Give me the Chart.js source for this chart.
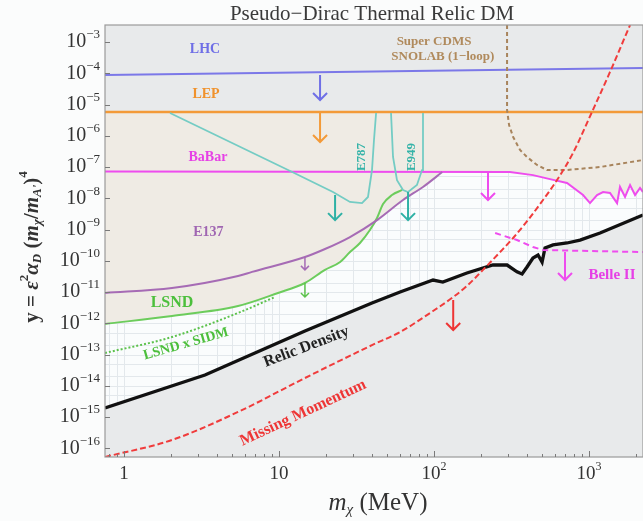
<!DOCTYPE html>
<html>
<head>
<meta charset="utf-8">
<title>Pseudo-Dirac Thermal Relic DM</title>
<script src="https://cdn.jsdelivr.net/npm/chart.js@4.4.1/dist/chart.umd.min.js"></script>
<style>
  html, body { margin: 0; padding: 0; background: #fbfcfc; }
  #wrap { width: 643px; height: 521px; }
</style>
</head>
<body>
<div id="wrap"><canvas id="relic-chart" width="643" height="521"></canvas></div>
<script>
// x = m_chi (MeV), y = eps^2 alpha_D (m_chi/m_A')^4
const xMin = 0.754, xMax = 2230;
const yMin = 5.25e-17, yMax = 3.5e-3;

const lhcX = [0.754, 2230];
const lhcY = [8.8e-5, 1.47e-4];

const lepX = [0.754, 2230];
const lepY = [5.75e-6, 5.75e-6];

const babarX = [0.754, 309, 435, 560, 721, 915, 1015, 1127, 1232, 1366, 1517, 1585, 1708, 1840, 1982, 2133, 2230];
const babarY = [7.2e-8, 6.9e-8, 5.5e-8, 4.1e-8, 3.08e-8, 1.27e-8, 7.0e-9, 1.27e-8, 1.58e-8, 1.47e-8, 7.0e-9, 2.3e-8, 1.1e-8, 2.65e-8, 1.27e-8, 2.13e-8, 1.58e-8];

const e137X = [0.754, 2.04, 5.44, 6.70, 14.7, 19.8, 28.7, 42.9, 63.1, 84.9, 113];
const e137Y = [9.3e-12, 1.34e-11, 3.25e-11, 4.4e-11, 1.32e-10, 2.38e-10, 5.75e-10, 2.0e-9, 8.8e-9, 2.3e-8, 6.9e-8];

const lsndX = [0.754, 2.04, 5.44, 9.85, 14.7, 19.8, 24.8, 28.7, 33.3, 38.6, 42.9, 46.9, 53.6, 62.2];
const lsndY = [9.5e-13, 1.71e-12, 3.56e-12, 9.3e-12, 1.94e-11, 5.1e-11, 9.1e-11, 1.9e-10, 3.7e-10, 9.6e-10, 2.33e-9, 6.5e-9, 1.27e-8, 1.84e-8];

const sidmX = [0.754, 2.04, 5.44, 9.42];
const sidmY = [1.12e-13, 3.63e-13, 2.13e-12, 6.9e-12];

const relicX = [0.754, 3.33, 14.7, 39.8, 60.4, 98.6, 114, 163, 240, 296, 343, 370, 398, 435, 469, 498, 520, 586, 721, 875, 1178, 2230];
const relicY = [1.94e-15, 2.2e-14, 5.65e-13, 4.45e-12, 1.0e-11, 2.42e-11, 2.09e-11, 4.05e-11, 7.3e-11, 7.3e-11, 4.4e-11, 3.77e-11, 6.3e-11, 1.22e-10, 1.53e-10, 9.1e-11, 2.56e-10, 3.2e-10, 3.7e-10, 4.6e-10, 7.7e-10, 2.9e-9];

const missX = [0.754, 2.04, 5.44, 14.7, 39.8, 60.4, 98.6, 133, 163, 207, 267, 324, 404, 483, 622, 788, 1045, 1366, 1840];
const missY = [5.25e-17, 1.84e-16, 1.45e-15, 1.77e-14, 2.0e-13, 5.25e-13, 2.47e-12, 6.9e-12, 1.56e-11, 5.1e-11, 1.9e-10, 5.35e-10, 2.0e-9, 6.5e-9, 3.84e-8, 2.8e-7, 5.75e-6, 1.1e-4, 3.5e-3];

const e787X = [1.98, 11.8, 22.3, 28.7, 34.3, 37.5, 39.8, 41.0, 42.3];
const e787Y = [5.35e-6, 7.45e-8, 1.58e-8, 7.6e-9, 7.0e-9, 1.1e-8, 8.0e-8, 7.3e-7, 5.35e-6];

const e949X = [52.8, 54.4, 57.7, 63.1, 68.0, 77.6, 83.7, 84.9, 84.9];
const e949Y = [5.35e-6, 2.09e-7, 3.8e-8, 1.84e-8, 1.58e-8, 2.65e-8, 8.0e-8, 7.3e-7, 5.35e-6];

const cdmsX = [296, 296, 305, 324, 359, 398, 462, 536, 721, 1178, 2230];
const cdmsY = [3.5e-3, 6.67e-6, 2.2e-6, 9.1e-7, 3.5e-7, 2.09e-7, 1.16e-7, 8.0e-8, 8.0e-8, 1.0e-7, 1.67e-7];

const belleX = [248, 343, 435, 505, 2230];
const belleY = [7.7e-10, 4.6e-10, 2.75e-10, 2.2e-10, 1.9e-10];

// downward "excluded" arrows: x, start, tip
const arrowX   = [18.4, 18.4, 23.0, 68.0, 223, 14.7, 14.7, 700, 133];
const arrowTop = [8.8e-5, 5.75e-6, 1.27e-8, 1.58e-8, 6.9e-8, 1.32e-10, 1.94e-11, 1.9e-10, 5.5e-12];
const arrowTip = [1.39e-5, 6.3e-7, 2.0e-9, 2.0e-9, 8.8e-9, 5.1e-11, 6.9e-12, 2.42e-11, 6.1e-13];

// region labels
const labelText = ['LHC', 'LEP', 'BaBar', 'E137', 'LSND', 'LSND x SIDM', 'Relic Density', 'Missing Momentum',
  'Super CDMS', 'SNOLAB (1\u2212loop)', 'E787', 'E949', 'Belle II'];
const labelX = [3.33, 3.38, 3.48, 3.5, 2.04, 2.51, 15.0, 14.3, 100, 114, 34.3, 72.1, 1406];
const labelY = [6.0e-4, 2.17e-5, 2.09e-7, 8.3e-10, 4.45e-12, 2.17e-13, 1.74e-13, 1.35e-15, 1.0e-3, 3.3e-4, 2.09e-7, 2.09e-7, 3.5e-11];

const yDecades = [-3, -4, -5, -6, -7, -8, -9, -10, -11, -12, -13, -14, -15, -16];
const xDecades = [0, 1, 2, 3];

// --- styles ---
const serif = '"Liberation Serif", "DejaVu Serif", serif';
const gray = '#e8eaeb';
const beige = '#efebe4';
const teal = '#74ccc4';
const tealDark = '#2eb1a5';
const magenta = '#ee4cee';

const arrowColor = ['#6f6fe6', '#f39a38', tealDark, tealDark, magenta, '#a66bb5', '#5cc24c', magenta, '#ee3535'];
const arrowHead = [7, 7, 7, 7, 7, 4, 4, 7, 7];

const labelStyle = [
  { color: '#6f6fe6', size: 14 },
  { color: '#f0922c', size: 14 },
  { color: '#e640e6', size: 14 },
  { color: '#a066b2', size: 14 },
  { color: '#4cbf3c', size: 16 },
  { color: '#4cbf3c', size: 14, rot: -16 },
  { color: '#222222', size: 16, rot: -21 },
  { color: '#ee3535', size: 16, rot: -25 },
  { color: '#b08a5c', size: 13 },
  { color: '#b08a5c', size: 13 },
  { color: '#35b3a8', size: 13, rot: -90 },
  { color: '#35b3a8', size: 13, rot: -90 },
  { color: '#e640e6', size: 15 }
];

function pts(xs, ys) {
  return xs.map((x, i) => ({ x: x, y: ys[i] }));
}

// lower edge of the excluded (beige) band: LSND, then E137, then BaBar
const boundary = [
  ...pts(lsndX, lsndY).filter(p => p.x < 41),
  ...pts(e137X, e137Y).filter(p => p.x >= 41),
  ...pts(babarX, babarY).filter(p => p.x > 113)
];

function lineSet(label, data, color, width, extra) {
  return Object.assign({
    label: label, data: data, borderColor: color, borderWidth: width,
    pointRadius: 0, fill: false, tension: 0
  }, extra || {});
}

function fontOf(p) {
  return (p.italic ? 'italic ' : '') + (p.bold ? 'bold ' : '') + p.size + 'px ' + serif;
}

function drawRich(ctx, pieces, x, y, align) {
  let w = 0;
  pieces.forEach(p => { ctx.font = fontOf(p); p.w = ctx.measureText(p.t).width; w += p.w; });
  let cx = align === 'right' ? x - w : (align === 'center' ? x - w / 2 : x);
  ctx.textAlign = 'left';
  ctx.textBaseline = 'middle';
  pieces.forEach(p => { ctx.font = fontOf(p); ctx.fillText(p.t, cx, y + (p.dy || 0)); cx += p.w; });
}

const decor = {
  id: 'decor',
  beforeDraw(chart) {
    const { ctx, chartArea: a } = chart;
    ctx.save();
    ctx.fillStyle = '#fafcfd';
    ctx.fillRect(a.left, a.top, a.right - a.left, a.bottom - a.top);
    ctx.restore();
  },
  beforeDatasetsDraw(chart) {
    const { ctx, chartArea: a, scales: { x, y } } = chart;
    ctx.save();
    ctx.beginPath();
    ctx.rect(a.left, a.top, a.right - a.left, a.bottom - a.top);
    ctx.clip();
    ctx.strokeStyle = '#e3e8ec';
    ctx.lineWidth = 1;
    for (let n = -1; n <= 3; n++) {
      for (let d = 1; d <= 9; d++) {
        const px = Math.round(x.getPixelForValue(d * Math.pow(10, n))) + 0.5;
        ctx.beginPath(); ctx.moveTo(px, a.top); ctx.lineTo(px, a.bottom); ctx.stroke();
      }
    }
    for (let k = -17; k <= -2; k++) {
      [1, 2, 5].forEach(d => {
        const py = Math.round(y.getPixelForValue(d * Math.pow(10, k))) + 0.5;
        ctx.beginPath(); ctx.moveTo(a.left, py); ctx.lineTo(a.right, py); ctx.stroke();
      });
    }
    ctx.restore();
  },
  afterDatasetsDraw(chart) {
    const { ctx, chartArea: a, scales: { x, y } } = chart;
    ctx.save();

    // arrows
    arrowX.forEach((v, i) => {
      const px = x.getPixelForValue(v);
      const y0 = y.getPixelForValue(arrowTop[i]);
      const y1 = y.getPixelForValue(arrowTip[i]);
      const h = arrowHead[i];
      ctx.strokeStyle = arrowColor[i];
      ctx.lineWidth = h > 5 ? 2 : 1.5;
      ctx.beginPath();
      ctx.moveTo(px, y0); ctx.lineTo(px, y1);
      ctx.moveTo(px - h, y1 - h); ctx.lineTo(px, y1); ctx.lineTo(px + h, y1 - h);
      ctx.stroke();
    });

    // labels
    labelText.forEach((t, i) => {
      const st = labelStyle[i];
      ctx.save();
      ctx.translate(x.getPixelForValue(labelX[i]), y.getPixelForValue(labelY[i]));
      if (st.rot) ctx.rotate(st.rot * Math.PI / 180);
      ctx.fillStyle = st.color;
      drawRich(ctx, [{ t: t, size: st.size, bold: true }], 0, 0, 'center');
      ctx.restore();
    });

    // frame
    ctx.strokeStyle = '#9a9a9a';
    ctx.lineWidth = 1.2;
    ctx.strokeRect(a.left, a.top, a.right - a.left, a.bottom - a.top);

    // inward ticks
    ctx.strokeStyle = '#7a7a7a';
    ctx.lineWidth = 1;
    for (let n = -1; n <= 3; n++) {
      for (let d = 1; d <= 9; d++) {
        const v = d * Math.pow(10, n);
        if (v < xMin || v > xMax) continue;
        const px = Math.round(x.getPixelForValue(v)) + 0.5;
        const len = d === 1 ? 6 : 3;
        ctx.beginPath(); ctx.moveTo(px, a.bottom); ctx.lineTo(px, a.bottom - len); ctx.stroke();
      }
    }
    yDecades.forEach(k => {
      const py = Math.round(y.getPixelForValue(Math.pow(10, k))) + 0.5;
      ctx.beginPath(); ctx.moveTo(a.left, py); ctx.lineTo(a.left + 5, py); ctx.stroke();
    });

    // tick labels
    ctx.fillStyle = '#333333';
    yDecades.forEach(k => {
      const py = y.getPixelForValue(Math.pow(10, k));
      drawRich(ctx, [{ t: '10', size: 20 }, { t: '\u2212' + (-k), size: 13, dy: -7 }], a.left - 5, py, 'right');
    });
    xDecades.forEach(n => {
      const px = x.getPixelForValue(Math.pow(10, n));
      const pieces = n === 0 ? [{ t: '1', size: 19 }] :
        n === 1 ? [{ t: '10', size: 19 }] : [{ t: '10', size: 19 }, { t: String(n), size: 12, dy: -7 }];
      drawRich(ctx, pieces, px, a.bottom + 17, 'center');
    });

    // axis titles
    drawRich(ctx, [{ t: 'm', size: 25, italic: true }, { t: '\u03c7', size: 15, italic: true, dy: 7 },
      { t: ' (MeV)', size: 25 }], 378, 503, 'center');

    ctx.save();
    ctx.translate(33, 247);
    ctx.rotate(-Math.PI / 2);
    drawRich(ctx, [
      { t: 'y = ', size: 21, bold: true },
      { t: '\u03b5', size: 21, bold: true, italic: true },
      { t: '2', size: 13, bold: true, dy: -8 },
      { t: '\u03b1', size: 21, bold: true, italic: true },
      { t: 'D', size: 13, bold: true, italic: true, dy: 5 },
      { t: ' (', size: 21, bold: true },
      { t: 'm', size: 21, bold: true, italic: true },
      { t: '\u03c7', size: 13, bold: true, italic: true, dy: 5 },
      { t: '/', size: 21, bold: true },
      { t: 'm', size: 21, bold: true, italic: true },
      { t: "A'", size: 13, bold: true, italic: true, dy: 5 },
      { t: ')', size: 21, bold: true },
      { t: '4', size: 13, bold: true, dy: -9 }
    ], 0, 0, 'center');
    ctx.restore();

    // title
    ctx.fillStyle = '#3a3a3a';
    drawRich(ctx, [{ t: 'Pseudo\u2212Dirac Thermal Relic DM', size: 21 }], 372, 14, 'center');

    ctx.restore();
  }
};

const smooth = { cubicInterpolationMode: 'monotone' };

const datasets = [
  lineSet('excluded', boundary, 'rgba(0,0,0,0)', 0, { fill: 'end', backgroundColor: beige, order: 20 }),
  lineSet('LEP', pts(lepX, lepY), '#f39a38', 2.5, { fill: 'end', backgroundColor: gray, order: 19 }),
  lineSet('Relic Density', pts(relicX, relicY), '#111111', 3.3, { fill: 'start', backgroundColor: gray, order: 18 }),
  lineSet('LHC', pts(lhcX, lhcY), '#7b78e8', 2, { order: 9 }),
  lineSet('BaBar', pts(babarX, babarY), magenta, 2, { order: 8 }),
  lineSet('E137', pts(e137X, e137Y), '#a66bb5', 2, Object.assign({ order: 7 }, smooth)),
  lineSet('LSND', pts(lsndX, lsndY), '#6ccc5c', 2, Object.assign({ order: 7 }, smooth)),
  lineSet('LSND x SIDM', pts(sidmX, sidmY), '#5cc24c', 2, Object.assign({ borderDash: [2, 2], order: 7 }, smooth)),
  lineSet('E787', pts(e787X, e787Y), teal, 1.8, { order: 6 }),
  lineSet('E949', pts(e949X, e949Y), teal, 1.8, { order: 6 }),
  lineSet('Super CDMS', pts(cdmsX, cdmsY), '#a8845c', 2, { borderDash: [4, 3], order: 5 }),
  lineSet('Belle II', pts(belleX, belleY), magenta, 2, { borderDash: [6, 4], order: 4 }),
  lineSet('Missing Momentum', pts(missX, missY), '#f03c3c', 2, Object.assign({ borderDash: [6, 3], order: 3 }, smooth))
];

new Chart(document.getElementById('relic-chart'), {
  type: 'line',
  data: { datasets: datasets },
  options: {
    responsive: false,
    animation: false,
    parsing: false,
    layout: { padding: { top: 25, left: 0, right: 0, bottom: 0 } },
    plugins: { legend: { display: false }, tooltip: { enabled: false }, title: { display: false } },
    scales: {
      x: {
        type: 'logarithmic', min: xMin, max: xMax, bounds: 'data',
        grid: { display: false }, border: { display: false }, ticks: { display: false },
        afterFit: scale => { scale.height = 64; }
      },
      y: {
        type: 'logarithmic', min: yMin, max: yMax, bounds: 'data',
        grid: { display: false }, border: { display: false }, ticks: { display: false },
        afterFit: scale => { scale.width = 105; }
      }
    }
  },
  plugins: [decor]
});
</script>
</body>
</html>
